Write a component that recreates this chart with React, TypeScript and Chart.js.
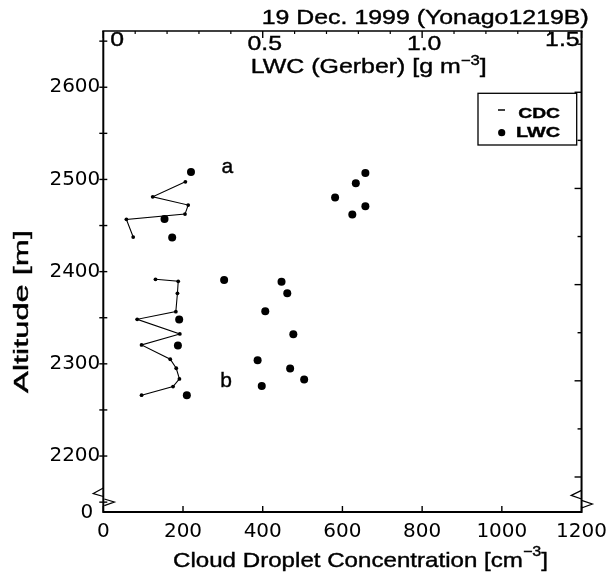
import React, { useEffect, useRef } from 'react';
import { Chart, registerables } from 'chart.js';

Chart.register(...registerables);

// ---- data ----
// CDC profile, upper cloud layer (a)
const cdcAltA = [2497.4, 2481.1, 2472.2, 2462.4, 2456.7, 2437.5];
const cdcA = [206, 124, 213, 205, 58, 75];
// CDC profile, lower cloud layer (b)
const cdcAltB = [2391.7, 2389.5, 2376.5, 2356.6, 2348.3, 2332.4, 2320.5, 2305, 2295.2, 2283.6, 2275.3, 2266];
const cdcB = [131, 188, 186, 182, 85, 192, 96, 168, 183, 191, 175, 96];
// LWC (Gerber) points
const lwcAlt = [2508, 2457, 2437, 2391, 2348, 2320, 2266, 2389, 2376.5, 2357, 2332, 2304, 2295, 2283, 2276, 2507, 2496, 2480.5, 2462, 2471];
const lwcValues = [0.275, 0.192, 0.216, 0.379, 0.238, 0.234, 0.262, 0.559, 0.577, 0.508, 0.596, 0.484, 0.586, 0.63, 0.497, 0.822, 0.792, 0.727, 0.781, 0.822];

// axes
const cdcTicks = [0, 200, 400, 600, 800, 1000, 1200];
const altTicks = [2200, 2300, 2400, 2500, 2600];
const altMinorTicks = [2150, 2200, 2250, 2300, 2350, 2400, 2450, 2500, 2550, 2600, 2650];
const rightTicks = [2200, 2250, 2300, 2350, 2400, 2450, 2500, 2550, 2600, 2650];
const lwcTicks = [0, 0.5, 1.0, 1.5];
const lwcTickLabels = ['0', '0.5', '1.0', '1.5'];
const lwcMinorTicks = [0.1, 0.2, 0.3, 0.4, 0.6, 0.7, 0.8, 0.9, 1.1, 1.2, 1.3, 1.4];
const annotations = [
  { text: 'a', x: 311, y: 2506.5 },
  { text: 'b', x: 308, y: 2275.3 },
];

const TITLE = '19 Dec. 1999 (Yonago1219B)';
const FAM = '"Liberation Sans", Arial, sans-serif';
const TICKFAM = '"DejaVu Sans", sans-serif';

type Part = { text: string; size: number; rise?: number; bold?: boolean };

function fontOf(p: Part) {
  return `${p.bold ? 'bold ' : ''}${p.size}px ${FAM}`;
}

function drawFit(ctx: CanvasRenderingContext2D, parts: Part[], left: number, baseline: number, width: number) {
  let total = 0;
  const ws = parts.map((p) => {
    ctx.font = fontOf(p);
    const w = ctx.measureText(p.text).width;
    total += w;
    return w;
  });
  const k = width / total;
  ctx.save();
  ctx.translate(left, baseline);
  ctx.scale(k, 1);
  ctx.textAlign = 'left';
  ctx.textBaseline = 'alphabetic';
  ctx.fillStyle = '#000';
  ctx.strokeStyle = '#000';
  ctx.lineWidth = 0.4;
  let cx = 0;
  parts.forEach((p, i) => {
    ctx.font = fontOf(p);
    ctx.fillText(p.text, cx, -(p.rise || 0));
    ctx.strokeText(p.text, cx, -(p.rise || 0));
    cx += ws[i];
  });
  ctx.restore();
}

function drawText(ctx: CanvasRenderingContext2D, text: string, x: number, y: number, size: number, align: 'left' | 'center' | 'right', k = 1.18) {
  ctx.font = `${size}px ${FAM}`;
  const w = ctx.measureText(text).width * k;
  const left = align === 'center' ? x - w / 2 : align === 'right' ? x - w : x;
  drawFit(ctx, [{ text, size }], left, y, w);
}

const decorPlugin = {
  id: 'decor',
  afterDraw(chart: any) {
    const ctx: CanvasRenderingContext2D = chart.ctx;
    const { left, right, top, bottom } = chart.chartArea;
    const sx = chart.scales.x;
    const sx2 = chart.scales.x2;
    const sy = chart.scales.y;
    const sy2 = chart.scales.y2;
    ctx.save();
    ctx.strokeStyle = '#000';
    ctx.fillStyle = '#000';
    ctx.lineCap = 'butt';

    // frame
    ctx.lineWidth = 2;
    ctx.beginPath();
    ctx.moveTo(left, top);
    ctx.lineTo(left, bottom);
    ctx.lineTo(right, bottom);
    ctx.lineTo(right, top);
    ctx.stroke();
    ctx.lineWidth = 1.6;
    ctx.beginPath();
    ctx.moveTo(left - 1, top);
    ctx.lineTo(right + 1, top);
    ctx.stroke();

    // bottom ticks (inward)
    ctx.lineWidth = 1.4;
    cdcTicks.forEach((v) => {
      const px = sx.getPixelForValue(v);
      ctx.beginPath();
      ctx.moveTo(px, bottom);
      ctx.lineTo(px, bottom - 6);
      ctx.stroke();
    });
    // left ticks (crossing)
    altMinorTicks.forEach((v) => {
      const py = sy.getPixelForValue(v);
      ctx.beginPath();
      ctx.moveTo(left - 4, py);
      ctx.lineTo(left + 4, py);
      ctx.stroke();
    });
    // right ticks (inward)
    rightTicks.forEach((v) => {
      const py = sy2.getPixelForValue(v);
      const major = v % 100 === 0;
      ctx.beginPath();
      ctx.moveTo(right, py);
      ctx.lineTo(right - (major ? 7 : 4), py);
      ctx.stroke();
    });
    // top ticks (inward)
    lwcTicks.forEach((v) => {
      const px = sx2.getPixelForValue(v);
      ctx.beginPath();
      ctx.moveTo(px, top);
      ctx.lineTo(px, top + 7);
      ctx.stroke();
    });
    ctx.lineWidth = 1.2;
    lwcMinorTicks.forEach((v) => {
      const px = sx2.getPixelForValue(v);
      ctx.beginPath();
      ctx.moveTo(px, top);
      ctx.lineTo(px, top + 3);
      ctx.stroke();
    });

    // axis break marks
    ctx.lineWidth = 1.3;
    const brk = (pts: number[][]) => {
      ctx.beginPath();
      ctx.moveTo(pts[0][0], pts[0][1]);
      for (let i = 1; i < pts.length; i++) ctx.lineTo(pts[i][0], pts[i][1]);
      ctx.stroke();
    };
    brk([[left, bottom - 24], [left - 10, bottom - 18.5], [left, bottom - 15.5]]);
    brk([[left + 1, bottom - 13], [left + 11, bottom - 10], [left + 1, bottom - 6.3]]);
    brk([[right, bottom - 21.6], [right - 10.3, bottom - 16.6], [right, bottom - 13]]);
    brk([[right, bottom - 11.6], [right + 10.7, bottom - 8], [right, bottom - 4]]);

    // top tick labels (LWC axis, drawn inside the frame)
    lwcTicks.forEach((v, i) => {
      const px = sx2.getPixelForValue(v);
      if (i === 0) drawText(ctx, lwcTickLabels[i], px + 7, top + 15, 21, 'left');
      else if (i === lwcTicks.length - 1) drawText(ctx, lwcTickLabels[i], px - 2, top + 15, 21, 'right');
      else drawText(ctx, lwcTickLabels[i], px + 2, top + 19, 21, 'center');
    });

    // y-axis "0" at the break
    ctx.font = `20px ${TICKFAM}`;
    ctx.textAlign = 'right';
    ctx.textBaseline = 'middle';
    ctx.fillStyle = '#000';
    ctx.fillText('0', left - 10, bottom + 1);

    // annotations a / b
    annotations.forEach((a) => {
      drawText(ctx, a.text, sx.getPixelForValue(a.x), sy.getPixelForValue(a.y), 21, 'center', 1.0);
    });

    // title
    drawFit(ctx, [{ text: TITLE, size: 21 }], 261.7, 23.5, 327);
    // top axis title
    drawFit(ctx, [
      { text: 'LWC (Gerber) [g m', size: 21 },
      { text: '−3', size: 14, rise: 8.5 },
      { text: ']', size: 21 },
    ], 250.7, 73.3, 236);
    // bottom axis title
    drawFit(ctx, [
      { text: 'Cloud Droplet Concentration [cm', size: 21 },
      { text: '−3', size: 14, rise: 11 },
      { text: ']', size: 21 },
    ], 173, 566.7, 375);
    // left axis title (rotated)
    ctx.save();
    ctx.translate(28.3, 393);
    ctx.rotate(-Math.PI / 2);
    drawFit(ctx, [{ text: 'Altitude [m]', size: 21 }], 0, 0, 163);
    ctx.restore();

    // legend
    ctx.lineWidth = 1.3;
    ctx.strokeStyle = '#000';
    ctx.strokeRect(478, 93.3, 98.7, 51.7);
    ctx.lineWidth = 1.5;
    ctx.beginPath();
    ctx.moveTo(498, 110);
    ctx.lineTo(505, 110);
    ctx.stroke();
    ctx.beginPath();
    ctx.arc(501.7, 132.7, 3.6, 0, Math.PI * 2);
    ctx.fill();
    drawFit(ctx, [{ text: 'CDC', size: 15, bold: true }], 518.3, 118.3, 41.7);
    drawFit(ctx, [{ text: 'LWC', size: 15, bold: true }], 516, 137.3, 44);

    ctx.restore();
  },
};

export default function App() {
  const ref = useRef<HTMLCanvasElement | null>(null);

  useEffect(() => {
    if (!ref.current) return;
    const tickFont = { family: TICKFAM, size: 20 };
    const chart = new Chart(ref.current, {
      type: 'scatter',
      data: {
        datasets: [
          {
            label: 'CDC',
            data: cdcA.map((v, i) => ({ x: v, y: cdcAltA[i] })),
            showLine: true,
            borderColor: '#000',
            borderWidth: 1.1,
            pointRadius: 1.9,
            pointBackgroundColor: '#000',
            pointBorderWidth: 0,
            xAxisID: 'x',
            yAxisID: 'y',
          },
          {
            label: 'CDC (b)',
            data: cdcB.map((v, i) => ({ x: v, y: cdcAltB[i] })),
            showLine: true,
            borderColor: '#000',
            borderWidth: 1.1,
            pointRadius: 1.9,
            pointBackgroundColor: '#000',
            pointBorderWidth: 0,
            xAxisID: 'x',
            yAxisID: 'y',
          },
          {
            label: 'LWC',
            data: lwcValues.map((v, i) => ({ x: v, y: lwcAlt[i] })),
            showLine: false,
            pointRadius: 4,
            pointBackgroundColor: '#000',
            pointBorderWidth: 0,
            xAxisID: 'x2',
            yAxisID: 'y',
          },
        ],
      } as any,
      options: {
        responsive: false,
        animation: false,
        devicePixelRatio: 1,
        layout: { padding: { top: 31, right: 29, left: 0, bottom: 0 } },
        plugins: {
          legend: { display: false },
          tooltip: { enabled: false },
        },
        scales: {
          x: {
            type: 'linear',
            position: 'bottom',
            min: 0,
            max: 1200,
            afterBuildTicks: (s: any) => {
              s.ticks = cdcTicks.map((v) => ({ value: v }));
            },
            afterFit: (s: any) => {
              s.height = 64;
            },
            ticks: {
              font: tickFont,
              color: '#000',
              padding: 8,
              maxRotation: 0,
              autoSkip: false,
              callback: (v: any) => String(v),
            },
            grid: { display: false, drawTicks: false },
            border: { display: false },
          },
          x2: { type: 'linear', display: false, position: 'top', min: 0, max: 1.5 },
          y: {
            type: 'linear',
            position: 'left',
            min: 2139.3,
            max: 2661,
            afterBuildTicks: (s: any) => {
              s.ticks = altTicks.map((v) => ({ value: v }));
            },
            afterFit: (s: any) => {
              s.width = 103.3;
            },
            ticks: {
              font: tickFont,
              color: '#000',
              padding: 3,
              autoSkip: false,
              callback: (v: any) => String(v),
            },
            grid: { display: false, drawTicks: false },
            border: { display: false },
          },
          y2: { type: 'linear', display: false, position: 'right', min: 2163.6, max: 2663.7 },
        },
      } as any,
      plugins: [decorPlugin],
    });
    return () => chart.destroy();
  }, []);

  return (
    <div style={{ position: 'absolute', left: 0, top: 0, width: 615, height: 576, background: '#fff' }}>
      <canvas ref={ref} width={615} height={576} style={{ display: 'block' }} />
    </div>
  );
}
